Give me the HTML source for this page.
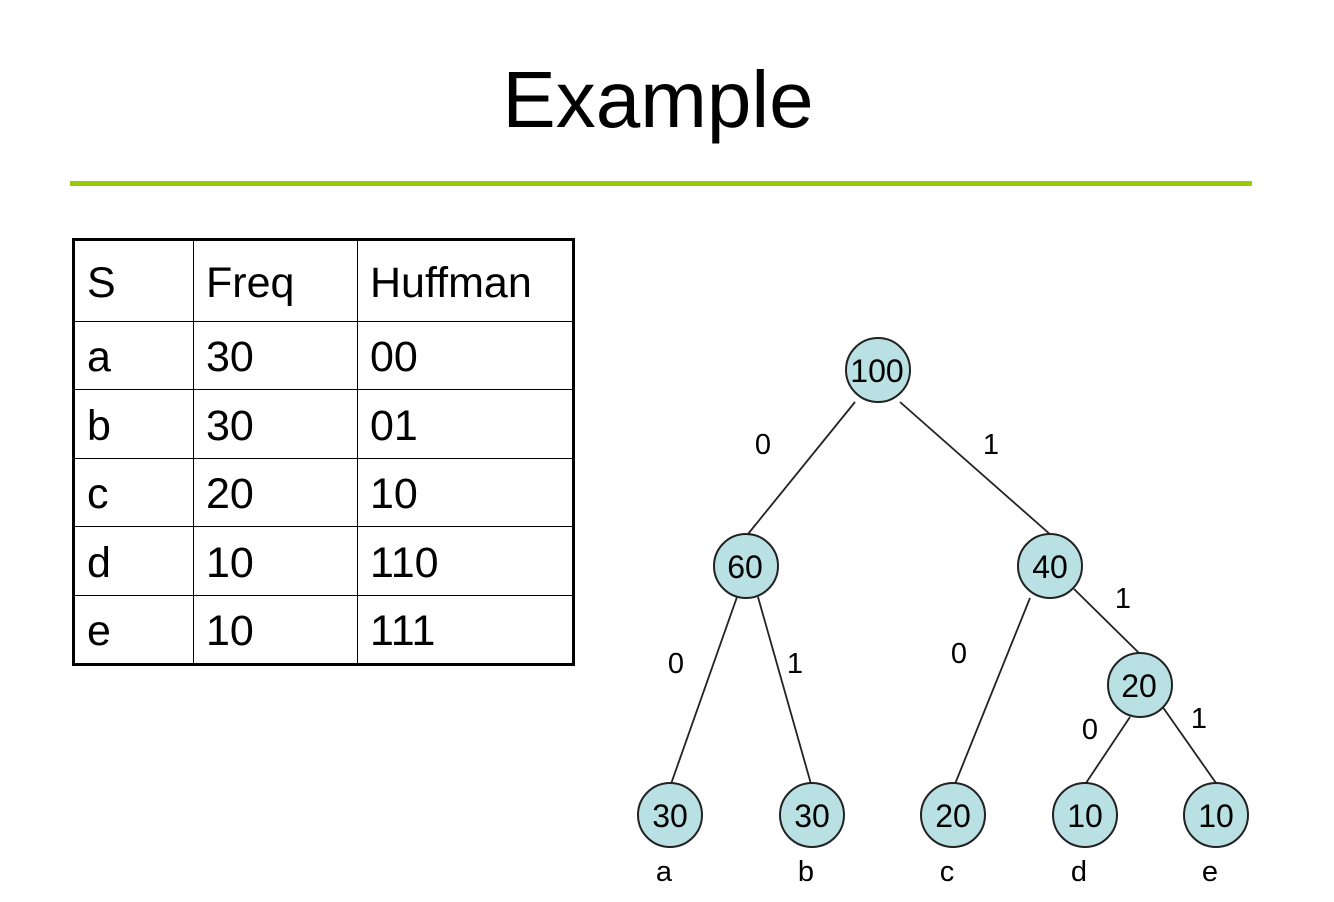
<!DOCTYPE html>
<html><head><meta charset="utf-8"><style>
html,body{margin:0;padding:0;background:#fff;}
body{width:1334px;height:902px;position:relative;overflow:hidden;font-family:"Liberation Sans",Arial,sans-serif;}
.title{position:absolute;left:0;width:1316px;top:52px;text-align:center;font-size:80px;line-height:96px;color:#000;}
.rule{position:absolute;left:70px;top:181px;width:1182px;height:5px;background:#99cc00;}
table{position:absolute;left:72px;top:238px;border-collapse:collapse;border:3px solid #000;}
td{border:1.5px solid #000;font-size:43px;padding:4px 0 0 12px;vertical-align:middle;box-sizing:border-box;}
</style></head><body>
<div class="title">Example</div>
<div class="rule"></div>
<table>
<tr style="height:82px"><td style="width:120px">S</td><td style="width:164px">Freq</td><td style="width:216px">Huffman</td></tr>
<tr style="height:68px"><td>a</td><td>30</td><td>00</td></tr>
<tr style="height:69px"><td>b</td><td>30</td><td>01</td></tr>
<tr style="height:68px"><td>c</td><td>20</td><td>10</td></tr>
<tr style="height:69px"><td>d</td><td>10</td><td>110</td></tr>
<tr style="height:69px"><td>e</td><td>10</td><td>111</td></tr>
</table>
<svg width="1334" height="902" style="position:absolute;left:0;top:0" font-family="Liberation Sans,Arial,sans-serif">
<g stroke="#222" stroke-width="1.8">
<line x1="855" y1="402" x2="748" y2="534"/>
<line x1="900" y1="402" x2="1052" y2="536"/>
<line x1="737" y1="597" x2="671" y2="784"/>
<line x1="758" y1="597" x2="811" y2="784"/>
<line x1="1030" y1="598" x2="955" y2="784"/>
<line x1="1074" y1="589" x2="1139" y2="653"/>
<line x1="1130" y1="717" x2="1086" y2="783"/>
<line x1="1162" y1="706" x2="1216" y2="783"/>
</g>
<g fill="#b9e0e3" stroke="#222" stroke-width="2">
<circle cx="878" cy="370" r="32"/>
<circle cx="746" cy="566" r="32"/>
<circle cx="1050" cy="566" r="32"/>
<circle cx="1140" cy="685" r="32"/>
<circle cx="670" cy="815" r="32"/>
<circle cx="812" cy="815" r="32"/>
<circle cx="953" cy="815" r="32"/>
<circle cx="1085" cy="815" r="32"/>
<circle cx="1216" cy="815" r="32"/>
</g>
<g style="font-size:32px" text-anchor="middle" fill="#000">
<text x="877" y="382">100</text>
<text x="745" y="578">60</text>
<text x="1050" y="578">40</text>
<text x="1139" y="697">20</text>
<text x="670" y="827">30</text>
<text x="812" y="827">30</text>
<text x="953" y="827">20</text>
<text x="1085" y="827">10</text>
<text x="1216" y="827">10</text>
</g>
<g style="font-size:29px" text-anchor="middle" fill="#000">
<text x="763" y="454">0</text>
<text x="991" y="454">1</text>
<text x="676" y="673">0</text>
<text x="795" y="673">1</text>
<text x="959" y="663">0</text>
<text x="1123" y="608">1</text>
<text x="1090" y="739">0</text>
<text x="1199" y="728">1</text>
<text x="664" y="881">a</text>
<text x="806" y="881">b</text>
<text x="947" y="881">c</text>
<text x="1079" y="881">d</text>
<text x="1210" y="881">e</text>
</g>
</svg>
</body></html>
